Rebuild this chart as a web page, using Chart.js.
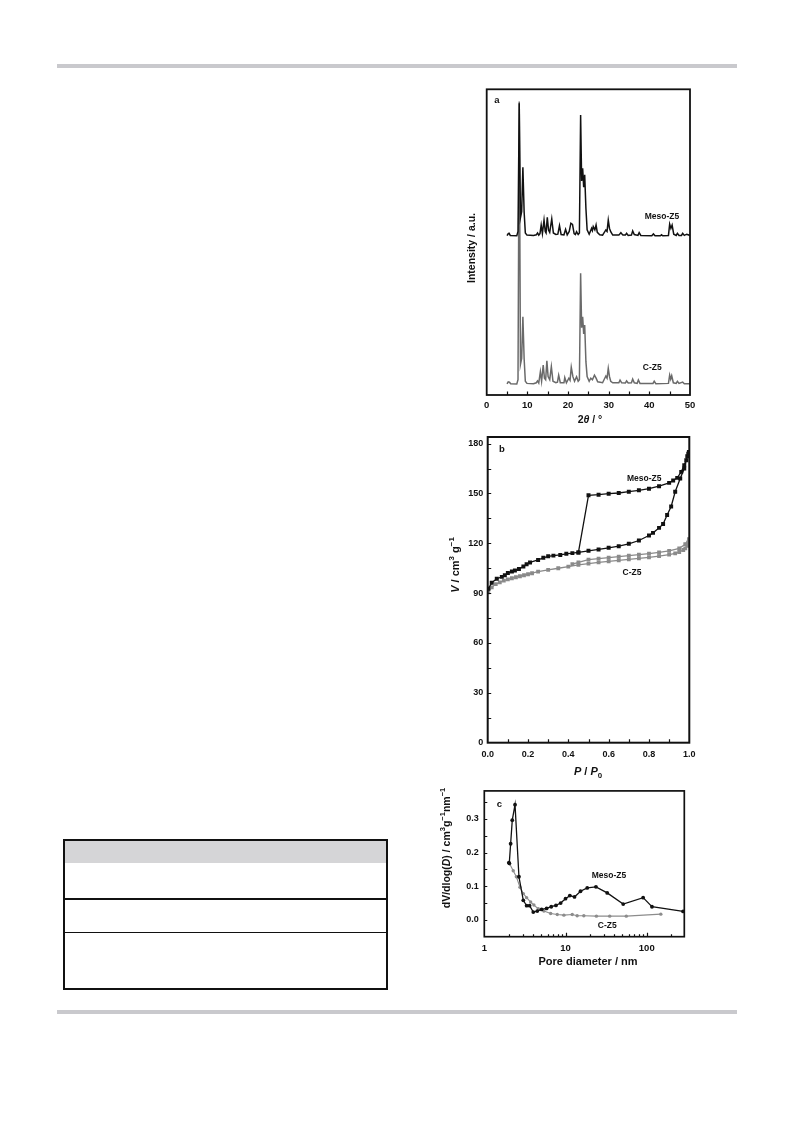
<!DOCTYPE html>
<html>
<head>
<meta charset="utf-8">
<title>XRD, N2 isotherm and pore size distribution</title>
<script src="https://cdn.jsdelivr.net/npm/chart.js@4.4.1/dist/chart.umd.min.js"></script>
<style>
  html, body { margin: 0; padding: 0; background: #fff; }
  body { width: 793px; height: 1121px; position: relative; overflow: hidden; }
  .rule { position: absolute; left: 57px; width: 680px; background: #c9c9cd; }
  canvas { position: absolute; }
</style>
</head>
<body>
<div class="rule" style="top:64px;height:4px"></div>
<div class="rule" style="top:1010px;height:3.5px"></div>

<div style="position:absolute;left:63px;top:839px;width:321px;height:147px;border:2px solid #111;">
  <div style="height:22px;background:#d5d5d7"></div>
  <div style="position:absolute;left:0;right:0;top:57px;border-top:2px solid #111"></div>
  <div style="position:absolute;left:0;right:0;top:91px;border-top:1.5px solid #111"></div>
</div>

<canvas id="chartA" width="245" height="345" style="left:455px;top:80px"></canvas>
<canvas id="chartB" width="290" height="360" style="left:420px;top:425px"></canvas>
<canvas id="chartC" width="290" height="200" style="left:420px;top:780px"></canvas>

<script>
// ---- (a) XRD patterns, 2theta in degrees, intensity in plot units (a.u.) ----
const mesoTheta = [5.0, 5.3, 5.5, 5.8, 7.4, 7.7, 8.0, 8.3, 8.6, 8.9, 9.2, 9.5, 9.9, 11.5, 12.2, 12.5, 12.8, 13.1, 13.4, 13.7,
  14.1, 14.4, 14.6, 14.9, 15.2, 15.5, 16.0, 16.4, 17.0, 17.5, 17.9, 18.3, 19.0, 19.4, 19.8, 20.3, 20.7, 21.1, 21.5, 21.8,
  22.1, 22.5, 22.8, 23.1, 23.35, 23.6, 23.85, 24.1, 24.4, 24.7, 25.2, 25.8, 26.0, 26.2, 26.6, 26.9, 27.2, 27.8, 28.5, 29.3,
  29.6, 29.9, 30.2, 30.5, 31.0, 32.5, 33.0, 33.5, 34.1, 34.4, 34.8, 35.6, 35.9, 36.3, 37.2, 37.5, 37.9, 40.6, 41.0, 41.4,
  42.7, 43.0, 43.3, 44.7, 45.0, 45.3, 45.6, 46.0, 46.6, 46.9, 47.3, 47.9, 48.2, 48.6, 49.2, 50.0];
const mesoCounts = [52.1, 52.8, 52.9, 52.2, 52.1, 53.5, 95.4, 58, 60, 74.5, 60, 53, 52.3, 52.2, 52.4, 53.0, 52.3, 52.8, 55.6, 52.8,
  57.2, 53.5, 53, 58.1, 54, 53.2, 57.6, 53, 52.5, 52.6, 55.4, 52.5, 52.4, 54.2, 52.4, 53.5, 56.2, 55.8, 52.8, 52.5,
  53.4, 52.5, 53, 91.6, 70, 74.2, 68, 72.0, 61.1, 54, 52.6, 54.5, 53.8, 55.1, 54, 55.6, 53.2, 52.4, 52.3, 54.0,
  53.5, 57.2, 54.5, 53.4, 52.3, 52.3, 53.1, 52.3, 52.3, 52.9, 52.2, 52.3, 53.7, 52.5, 52.2, 53.1, 52.2, 52.1, 52.7, 52.1,
  52.1, 52.4, 52.1, 52.2, 55.9, 54.5, 55.6, 52.6, 52.2, 52.9, 52.2, 52.2, 52.9, 52.2, 52.6, 52.2];
const czTheta = [5.0, 5.3, 5.6, 5.9, 7.4, 7.7, 8.0, 8.3, 8.6, 8.9, 9.2, 9.5, 9.9, 11.5, 12.2, 12.5, 12.8, 13.2, 13.5, 13.9,
  14.2, 14.5, 14.8, 15.1, 15.5, 15.9, 16.3, 17.0, 17.4, 17.7, 18.1, 19.0, 19.2, 19.6, 20.2, 20.5, 20.8, 21.2, 21.6, 22.1,
  22.5, 22.8, 23.1, 23.35, 23.6, 23.85, 24.1, 24.4, 24.7, 25.2, 25.6, 26.0, 26.5, 26.9, 27.3, 28.5, 29.3, 29.6, 29.9, 30.2,
  30.5, 31.0, 32.5, 32.8, 33.2, 34.1, 34.4, 34.8, 35.6, 35.9, 36.3, 37.0, 37.3, 37.7, 40.9, 41.2, 41.6, 44.7, 45.0, 45.25,
  45.5, 45.9, 46.6, 46.9, 47.3, 48.2, 48.6, 50.0];
const czCounts = [3.6, 4.3, 4.2, 3.7, 3.6, 5, 96, 10, 12, 25.6, 12, 4.5, 3.8, 3.7, 4, 4.6, 3.9, 7.6, 4.5, 9.8,
  5.5, 5, 11.2, 6, 5, 9.3, 4.5, 4, 4.2, 6.5, 4, 4, 5.7, 4, 5.5, 4.8, 9.1, 6, 4.5, 6,
  4.5, 5, 39.8, 22, 25.6, 20, 22.9, 10.9, 6, 4.5, 5.5, 5, 6.5, 5.5, 4.3, 4, 6.2, 5.5, 8.7, 6,
  4.5, 4, 4, 4.9, 4, 3.9, 4.6, 3.9, 4, 5.2, 4, 3.8, 4.9, 3.8, 3.8, 4.5, 3.7, 3.8, 6.5, 5.2,
  6.3, 4, 3.8, 4.5, 3.8, 4.2, 3.7, 3.7];
const aTicksX = [0, 10, 20, 30, 40, 50];
const aMarksX = [5, 10, 15, 20, 25, 30, 35, 40, 45];

// ---- (b) N2 isotherms, P/P0 vs V (cm3 g-1) ----
const mesoAdsP = [0.003, 0.02, 0.045, 0.07, 0.085, 0.1, 0.12, 0.135, 0.155, 0.177, 0.193, 0.21, 0.25, 0.276, 0.3, 0.326, 0.36, 0.39, 0.42, 0.45,
  0.5, 0.55, 0.6, 0.65, 0.7, 0.75, 0.8, 0.82, 0.85, 0.87, 0.89, 0.91, 0.93, 0.955, 0.975, 0.985, 0.995];
const mesoAdsV = [92.6, 96.3, 98.7, 99.8, 100.8, 102.1, 103, 103.6, 104.6, 106, 107.4, 108.5, 110, 111.3, 112.2, 112.6, 113, 113.7, 114.1, 114.5,
  115.5, 116.3, 117.3, 118.3, 119.7, 121.7, 124.7, 126.3, 129.3, 131.6, 137, 142.2, 151, 159, 165, 170, 174];
const mesoDesP = [0.998, 0.99, 0.975, 0.96, 0.94, 0.92, 0.9, 0.85, 0.8, 0.75, 0.7, 0.65, 0.6, 0.55, 0.5, 0.45];
const mesoDesV = [175, 172.4, 167, 163, 159.4, 157.8, 156.4, 154.4, 152.9, 151.9, 151.1, 150.3, 149.9, 149.3, 148.9, 114.5];
const czAdsP = [0.003, 0.02, 0.04, 0.06, 0.08, 0.1, 0.12, 0.14, 0.16, 0.18, 0.2, 0.22, 0.25, 0.3, 0.35, 0.4, 0.45, 0.5, 0.55, 0.6,
  0.65, 0.7, 0.75, 0.8, 0.85, 0.9, 0.93, 0.95, 0.97, 0.98, 0.99, 0.995];
const czAdsV = [90.5, 93.5, 95.5, 96.5, 97.5, 98.3, 99, 99.6, 100.2, 100.8, 101.4, 102, 103, 104, 105, 106, 107, 107.8, 108.5, 109.2,
  109.8, 110.4, 111, 111.6, 112.3, 113.2, 114, 114.8, 116, 117, 118.5, 120.5];
const czDesP = [0.998, 0.98, 0.95, 0.9, 0.85, 0.8, 0.75, 0.7, 0.65, 0.6, 0.55, 0.5, 0.45, 0.42];
const czDesV = [122.5, 119.5, 117, 115.5, 114.5, 113.8, 113.2, 112.6, 112, 111.4, 110.8, 110.2, 108.5, 107.5];
const bTicksX = [0, 0.2, 0.4, 0.6, 0.8, 1.0];
const bTicksY = [0, 30, 60, 90, 120, 150, 180];
const bMarksX = [0.1, 0.2, 0.3, 0.4, 0.5, 0.6, 0.7, 0.8, 0.9];
const bMarksY = [15, 30, 45, 60, 75, 90, 105, 120, 135, 150, 165, 180];

// ---- (c) pore size distribution, D (nm) vs dV/dlog(D) ----
const mesoPoreD = [2.01, 2.03, 2.11, 2.21, 2.39, 2.67, 3.02, 3.32, 3.61, 4.01, 4.49, 5.08, 5.85, 6.67, 7.62, 8.71, 10.0, 11.3, 12.9, 15.3,
  18.5, 23.7, 32.6, 51.3, 90.3, 116, 280];
const mesoPoreV = [0.170, 0.168, 0.226, 0.296, 0.342, 0.128, 0.058, 0.042, 0.042, 0.023, 0.026, 0.031, 0.034, 0.039, 0.043, 0.050, 0.063, 0.072, 0.068, 0.085,
  0.095, 0.098, 0.080, 0.047, 0.066, 0.039, 0.025];
const czPoreD = [2.05, 2.27, 2.48, 2.75, 3.02, 3.32, 3.72, 4.08, 4.62, 5.42, 6.56, 7.91, 9.55, 12.1, 13.9, 16.8, 24, 35, 56, 149];
const czPoreV = [0.167, 0.146, 0.128, 0.097, 0.078, 0.066, 0.053, 0.044, 0.033, 0.026, 0.019, 0.016, 0.014, 0.016, 0.012, 0.012, 0.011, 0.011, 0.011, 0.017];
const cTicksX = [1, 10, 100];
const cTicksY = [0, 0.1, 0.2, 0.3];
const cMajorX = [10, 100];
const cMinorX = [2, 3, 4, 5, 6, 7, 8, 9, 20, 30, 40, 50, 60, 70, 80, 90, 200];
const cMarksY = [0, 0.05, 0.1, 0.15, 0.2, 0.25, 0.3, 0.35];

const FONT = '"Liberation Sans", Arial, Helvetica, sans-serif';
Chart.defaults.font.family = FONT;

const pts = (xs, ys) => xs.map((x, i) => ({ x: x, y: ys[i] }));

// text with italic / super- / subscript pieces, centred on (x, y)
function drawRich(ctx, segs, x, y, size, rotate) {
  ctx.save();
  ctx.translate(x, y);
  if (rotate) ctx.rotate(-Math.PI / 2);
  ctx.fillStyle = '#111';
  ctx.textAlign = 'left';
  ctx.textBaseline = 'alphabetic';
  const fontOf = s => (s.it ? 'italic ' : '') + 'bold ' + ((s.sup || s.sub) ? size * 0.72 : size) + 'px ' + FONT;
  let w = 0;
  segs.forEach(s => { ctx.font = fontOf(s); w += ctx.measureText(s.t).width; });
  let cx = -w / 2;
  segs.forEach(s => {
    ctx.font = fontOf(s);
    const dy = s.sup ? -size * 0.42 : s.sub ? size * 0.28 : 0;
    ctx.fillText(s.t, cx, size * 0.36 + dy);
    cx += ctx.measureText(s.t).width;
  });
  ctx.restore();
}

// box round the plot, inward tick marks, in-plot labels and axis titles
function makeFrame(cfg) {
  return {
    id: 'frame',
    afterDatasetsDraw(chart) {
      const { ctx, chartArea: a, scales } = chart;
      ctx.save();
      ctx.strokeStyle = '#111';
      ctx.lineWidth = 1.2;
      ctx.beginPath();
      cfg.marks.forEach(m => {
        const s = scales[m.axis];
        m.values.forEach(v => {
          const p = Math.round(s.getPixelForValue(v)) + 0.5;
          if (m.axis === 'x') { ctx.moveTo(p, a.bottom); ctx.lineTo(p, a.bottom - m.len); }
          else { ctx.moveTo(a.left, p); ctx.lineTo(a.left + m.len, p); }
        });
      });
      ctx.stroke();
      ctx.lineWidth = cfg.frameWidth;
      ctx.strokeRect(a.left, a.top, a.right - a.left, a.bottom - a.top);
      cfg.labels.forEach(l => {
        drawRich(ctx, l.segs, scales.x.getPixelForValue(l.x), scales.y.getPixelForValue(l.y), l.size, false);
      });
      cfg.titles.forEach(t => drawRich(ctx, t.segs, t.x, t.y, t.size, t.rotate));
      ctx.restore();
    }
  };
}

function axis(type, min, max, ticks, fmt, size, pad, fixed, horiz) {
  const o = {
    type: type, min: min, max: max,
    grid: { display: false, drawTicks: false },
    border: { display: false },
    afterFit: s => { if (horiz) s.height = fixed; else s.width = fixed; },
    ticks: {
      display: !!ticks, autoSkip: false, maxRotation: 0, minRotation: 0, padding: pad,
      color: '#111', font: { family: FONT, size: size, weight: 'bold' },
      callback: v => fmt ? fmt(v) : v
    }
  };
  if (ticks) o.afterBuildTicks = s => { s.ticks = ticks.map(v => ({ value: v })); };
  return o;
}

const base = {
  responsive: false,
  animation: false,
  events: [],
  plugins: { legend: { display: false }, tooltip: { enabled: false } }
};

// (a)
new Chart(document.getElementById('chartA'), {
  type: 'line',
  data: {
    datasets: [
      { label: 'Meso-Z5', data: pts(mesoTheta, mesoCounts), borderColor: '#111', borderWidth: 1.5, pointRadius: 0, tension: 0 },
      { label: 'C-Z5', data: pts(czTheta, czCounts), borderColor: '#6a6a6a', borderWidth: 1.5, pointRadius: 0, tension: 0 }
    ]
  },
  options: Object.assign({}, base, {
    layout: { padding: { left: 0, top: 9.3, right: 10, bottom: 0 } },
    scales: {
      x: axis('linear', 0, 50, aTicksX, v => String(v), 9.5, 4.3, 30, true),
      y: axis('linear', 0, 100, null, null, 9, 0, 31.7, false)
    }
  }),
  plugins: [makeFrame({
    frameWidth: 1.8,
    marks: [{ axis: 'x', values: aMarksX, len: 3.5 }],
    labels: [
      { segs: [{ t: 'a' }], x: 2.5, y: 96.8, size: 9.5 },
      { segs: [{ t: 'Meso-Z5' }], x: 43.1, y: 58.6, size: 8.5 },
      { segs: [{ t: 'C-Z5' }], x: 40.7, y: 9.2, size: 8.5 }
    ],
    titles: [
      { segs: [{ t: 'Intensity / a.u.' }], x: 16, y: 168, size: 10.5, rotate: true },
      { segs: [{ t: '2' }, { t: 'θ', it: true }, { t: ' / °' }], x: 135, y: 339, size: 10.5 }
    ]
  })]
});

// (b)
new Chart(document.getElementById('chartB'), {
  type: 'line',
  data: {
    datasets: [
      { label: 'Meso-Z5', data: pts(mesoAdsP.concat(mesoDesP), mesoAdsV.concat(mesoDesV)), borderColor: '#111', borderWidth: 1.3,
        pointStyle: 'rect', pointRadius: 2.8, pointBackgroundColor: '#111', pointBorderWidth: 0, tension: 0 },
      { label: 'C-Z5', data: pts(czAdsP.concat(czDesP), czAdsV.concat(czDesV)), borderColor: '#8a8a8a', borderWidth: 1.3,
        pointStyle: 'rect', pointRadius: 2.7, pointBackgroundColor: '#8a8a8a', pointBorderWidth: 0, tension: 0 }
    ]
  },
  options: Object.assign({}, base, {
    layout: { padding: { left: 0, top: 12, right: 20.7, bottom: 0 } },
    scales: {
      x: axis('linear', 0, 1.0, bTicksX, v => v.toFixed(1), 9, 6.6, 42.3, true),
      y: axis('linear', 0, 184, bTicksY, v => String(v), 9, 4.4, 67.7, false)
    }
  }),
  plugins: [makeFrame({
    frameWidth: 2,
    marks: [{ axis: 'x', values: bMarksX, len: 3.5 }, { axis: 'y', values: bMarksY, len: 3.5 }],
    labels: [
      { segs: [{ t: 'b' }], x: 0.071, y: 177, size: 9.5 },
      { segs: [{ t: 'Meso-Z5' }], x: 0.776, y: 159.6, size: 8.5 },
      { segs: [{ t: 'C-Z5' }], x: 0.716, y: 102.9, size: 8.5 }
    ],
    titles: [
      { segs: [{ t: 'V', it: true }, { t: ' / cm' }, { t: '3', sup: true }, { t: ' g' }, { t: '−1', sup: true }], x: 35, y: 140, size: 11, rotate: true },
      { segs: [{ t: 'P', it: true }, { t: ' / ' }, { t: 'P', it: true }, { t: '0', sub: true }], x: 168, y: 346, size: 11 }
    ]
  })]
});

// (c)
new Chart(document.getElementById('chartC'), {
  type: 'line',
  data: {
    datasets: [
      { label: 'Meso-Z5', data: pts(mesoPoreD, mesoPoreV), borderColor: '#111', borderWidth: 1.3,
        pointRadius: 1.9, pointBackgroundColor: '#111', pointBorderWidth: 0, tension: 0 },
      { label: 'C-Z5', data: pts(czPoreD, czPoreV), borderColor: '#8c8c8c', borderWidth: 1.1,
        pointRadius: 1.7, pointBackgroundColor: '#8c8c8c', pointBorderWidth: 0, tension: 0 }
    ]
  },
  options: Object.assign({}, base, {
    layout: { padding: { left: 0, top: 10, right: 25.7, bottom: 0 } },
    scales: {
      x: axis('logarithmic', 1, 290, cTicksX, v => String(v), 9.5, 5.6, 43.3, true),
      y: axis('linear', -0.05, 0.383, cTicksY, v => v.toFixed(1), 9, 5.5, 64.3, false)
    }
  }),
  plugins: [makeFrame({
    frameWidth: 1.7,
    marks: [{ axis: 'x', values: cMajorX, len: 4 }, { axis: 'x', values: cMinorX, len: 2.5 }, { axis: 'y', values: cMarksY, len: 3 }],
    labels: [
      { segs: [{ t: 'c' }], x: 1.53, y: 0.346, size: 9.5 },
      { segs: [{ t: 'Meso-Z5' }], x: 34.2, y: 0.132, size: 8.5 },
      { segs: [{ t: 'C-Z5' }], x: 32.7, y: -0.015, size: 8.5 }
    ],
    titles: [
      { segs: [{ t: 'dV/dlog(' }, { t: 'D', it: true }, { t: ') / cm' }, { t: '3', sup: true }, { t: 'g' }, { t: '−1', sup: true }, { t: 'nm' }, { t: '−1', sup: true }],
        x: 26, y: 68, size: 10.5, rotate: true },
      { segs: [{ t: 'Pore diameter / nm' }], x: 168, y: 181, size: 11 }
    ]
  })]
});
</script>
</body>
</html>
